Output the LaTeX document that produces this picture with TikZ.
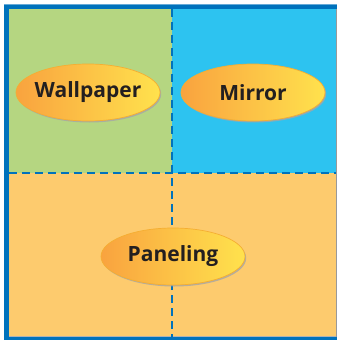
\documentclass[tikz,border=0pt]{standalone}
\usepackage{fontspec}
\setmainfont{Open Sans}
\usetikzlibrary{shapes.geometric,shadows}
\definecolor{bordblue}{HTML}{0072BC}
\definecolor{cgreen}{HTML}{B5D681}
\definecolor{cblue}{HTML}{2DC3F0}
\definecolor{corange}{HTML}{FDCB6E}
\definecolor{ellL}{HTML}{F9A33F}
\definecolor{ellR}{HTML}{FFE24D}
\definecolor{elledge}{HTML}{F5AE32}
\definecolor{txt}{HTML}{231F20}
\tikzset{
  oval/.style={ellipse, minimum width=144pt, minimum height=57pt, inner sep=-20pt,
    left color=ellL, right color=ellR, draw=elledge, line width=0.7pt,
    drop shadow={shadow xshift=1.2pt, shadow yshift=-1.5pt, fill=black!35, opacity=0.8},
    font=\bfseries\fontsize{21}{24}\selectfont, text=txt},
  divider/.style={draw=bordblue, line width=2.8pt, dash pattern=on 8pt off 5pt},
}
\begin{document}
\begin{tikzpicture}[x=1pt,y=-1pt]
\useasboundingbox (0,0) rectangle (337,340);
\begin{scope}
\clip (0,0) rectangle (337,340);
\fill[cgreen] (9,9) rectangle (172,173);
\fill[cblue] (172,9) rectangle (336,173);
\fill[corange] (9,173) rectangle (336,337);
\draw[black!40, line width=0.8pt] (336,9) -- (336,337);
\draw[black!30, line width=0.6pt] (9,336.5) -- (336,336.5);
\coordinate (vt) at (172,9);
\coordinate (vb) at (172,337);
\coordinate (hl) at (9,173);
\coordinate (hr) at (336,173);
\draw[divider] (vt) -- (vb);
\draw[divider] (hl) -- (hr);
\draw[bordblue, line width=5pt] (6.5,6.5) rectangle (341,339.5);
\draw[white!40!bordblue, line width=0.6pt] (4,4) -- (337,4);
\end{scope}
\node[oval] (wall) at (88,92.5) {Wallpaper};
\node[oval] (mirror) at (253,92.5) {Mirror};
\node[oval] (panel) at (173,256.5) {Paneling};
\end{tikzpicture}
\end{document}
